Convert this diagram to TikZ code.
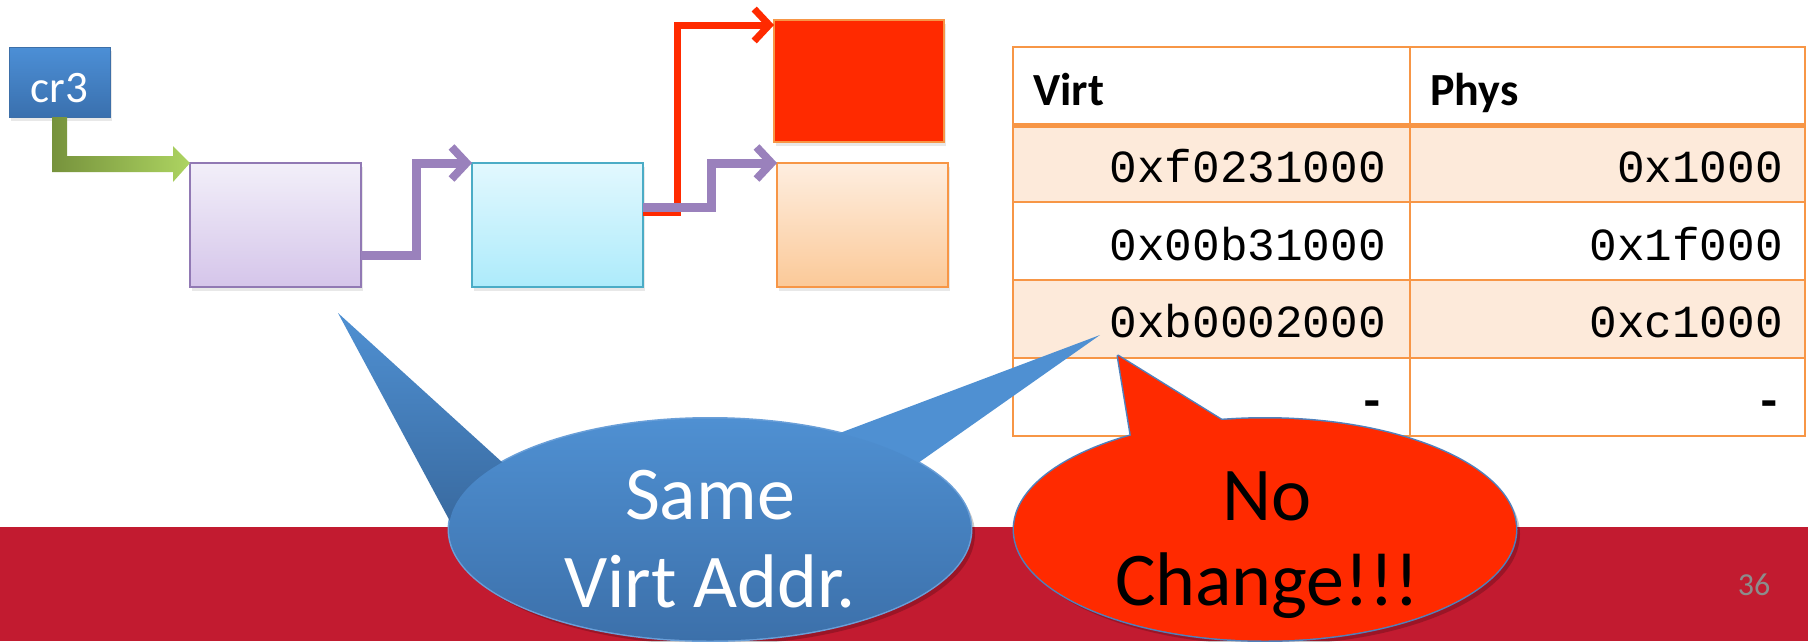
\documentclass[tikz,border=0pt]{standalone}
\usepackage{fontspec}
\setmainfont{Carlito}
\newfontfamily\monofont{Liberation Mono}
\usetikzlibrary{arrows.meta,calc,shadows}
\definecolor{bandred}{HTML}{C21B30}
\definecolor{purT}{HTML}{F2EFF9}
\definecolor{purB}{HTML}{D5C5EA}
\definecolor{purE}{HTML}{9179B4}
\definecolor{cyaT}{HTML}{E2F8FE}
\definecolor{cyaB}{HTML}{ADEBFB}
\definecolor{cyaE}{HTML}{4BACC6}
\definecolor{oraT}{HTML}{FEEEE0}
\definecolor{oraB}{HTML}{FBC998}
\definecolor{oraE}{HTML}{F79646}
\definecolor{hotred}{HTML}{FF2A00}
\definecolor{crT}{HTML}{4C8FD6}
\definecolor{crB}{HTML}{3A70AE}
\definecolor{crE}{HTML}{3D6FA8}
\definecolor{connpur}{HTML}{9A81BC}
\definecolor{rowfill}{HTML}{FDEADA}
\definecolor{grnD}{HTML}{76923C}
\definecolor{grnL}{HTML}{ADD461}
\definecolor{bluT}{HTML}{4F90D2}
\definecolor{bluB}{HTML}{3C70AA}
\definecolor{bluE}{HTML}{6A9FD8}
\definecolor{redE}{HTML}{4F81BD}
\definecolor{numgray}{HTML}{8C8C8C}
\begin{document}
\begin{tikzpicture}[x=1pt,y=-1pt,
  pagebox/.style={anchor=north west, minimum width=171pt, minimum height=124pt,
    inner sep=0pt, outer sep=0pt, line width=2pt,
    drop shadow={opacity=0.18, shadow xshift=2pt, shadow yshift=-4pt}},
  conn/.style={draw=connpur, line width=9pt,
    -{Straight Barb[length=15pt,width=32pt,line width=8pt]}},
  redconn/.style={draw=hotred, line width=7pt,
    -{Straight Barb[length=15pt,width=32pt,line width=7pt]}},
  tline/.style={draw=oraE, line width=2.5pt},
  hdr/.style={anchor=base west, inner sep=0pt, font=\fontsize{46}{55}\selectfont\bfseries},
  cell/.style={anchor=base east, inner sep=0pt, font=\monofont\fontsize{46}{55}\selectfont},
  bigw/.style={anchor=base, inner sep=0pt, text=white, font=\fontsize{76}{90}\selectfont},
  bigb/.style={anchor=base, inner sep=0pt, text=black, font=\fontsize{76}{90}\selectfont}]
\useasboundingbox (0,0) rectangle (1808,641);
\fill[white] (0,0) rectangle (1808,641);
\fill[bandred] (0,527) rectangle (1808,641);

% boxes
\node[anchor=north west, minimum width=101pt, minimum height=70pt, inner sep=0pt, outer sep=0pt,
  top color=crT, bottom color=crB, draw=crE, line width=1pt, text=white,
  text height=40pt, text depth=0pt,
  font=\fontsize{45}{54}\selectfont,
  drop shadow={opacity=0.18, shadow xshift=2pt, shadow yshift=-4pt}] (cr3) at (9,47) {cr3};
\node[pagebox, top color=purT, bottom color=purB, draw=purE] (box1) at (190,163) {};
\node[pagebox, top color=cyaT, bottom color=cyaB, draw=cyaE] (box2) at (472,163) {};
\node[pagebox, minimum width=170pt, minimum height=122pt, fill=hotred, draw=oraE] (box3) at (774,20) {};
\node[pagebox, top color=oraT, bottom color=oraB, draw=oraE] (box4) at (777,163) {};

% green block arrow
\shade[left color=grnD, right color=grnL]
  ($(cr3.south)+(-7.5,0)$) |- ($(box1.north west)+(-17,9)$) -- ++(0,10)
  -- (box1.north west) -- ($(box1.north west)+(-17,-17)$) -- ++(0,10)
  -| ($(cr3.south)+(7.5,0)$) -- cycle;

% connectors
\draw[redconn] ([yshift=-49pt]box2.north east) -- ++(34,0) |- ([yshift=-5pt]box3.north west);
\draw[conn] ([yshift=-92pt]box1.north east) -- ++(55,0) |- (box2.north west);
\draw[conn] ([yshift=-44pt]box2.north east) -- ++(68,0) |- (box4.north west);

% table
\fill[rowfill] (1013,125) rectangle (1805,202);
\fill[rowfill] (1013,280) rectangle (1805,358);
\draw[tline] (1013,47) rectangle (1805,436);
\draw[tline] (1013,202) -- (1805,202);
\draw[tline] (1013,280) -- (1805,280);
\draw[tline] (1013,358) -- (1805,358);
\draw[tline] (1410,47) -- (1410,436);
\draw[draw=oraE, line width=5pt] (1013,125) -- (1805,125);
\node[hdr] (hv) at (1033,105) {Virt};
\node[hdr] (hp) at (1430,105) {Phys};
\node[cell] (v1) at (1386,182) {0xf0231000};
\node[cell] (p1) at (1783,182) {0x1000};
\node[cell] (v2) at (1386,260) {0x00b31000};
\node[cell] (p2) at (1783,260) {0x1f000};
\node[cell] (v3) at (1386,337) {0xb0002000};
\node[cell] (p3) at (1783,337) {0xc1000};
\node[cell, font=\monofont\bfseries\fontsize{46}{55}\selectfont] (v4) at (1386,415) {-};
\node[cell, font=\monofont\bfseries\fontsize{46}{55}\selectfont] (p4) at (1783,415) {-};

% blue callout
\fill[black, opacity=0.2] (714,534) ellipse [x radius=261, y radius=111];
\draw[bluE, line width=3pt] (710,529.5) ellipse [x radius=261, y radius=111];
\shade[top color=bluT, bottom color=bluB!90!black] (338,313) -- (466,551) -- (536,493) -- cycle;
\fill[bluT] (1100,335) -- (800,448) -- (891,482) -- cycle;
\shade[top color=bluT, bottom color=bluB] (710,529.5) ellipse [x radius=261, y radius=111];
\node[bigw] (sameA) at (710,519) {Same};
\node[bigw] (sameB) at (710,607) {Virt Addr.};

% red callout
\fill[black, opacity=0.2] (1269,534) ellipse [x radius=251, y radius=111];
\draw[redE, line width=3pt] (1265,529.5) ellipse [x radius=251, y radius=111];
\draw[redE, line width=3pt, line join=round] (1118,356) -- (1135,460) -- (1252,439) -- cycle;
\fill[hotred] (1118,356) -- (1135,460) -- (1252,439) -- cycle;
\fill[hotred] (1265,529.5) ellipse [x radius=251, y radius=111];
\node[bigb] (noA) at (1267,520) {No};
\node[bigb] (noB) at (1267,605) {Change!!!};

% slide number
\node[anchor=base, inner sep=0pt, text=numgray, font=\fontsize{32}{38}\selectfont] (num) at (1754,595) {36};
\end{tikzpicture}
\end{document}
